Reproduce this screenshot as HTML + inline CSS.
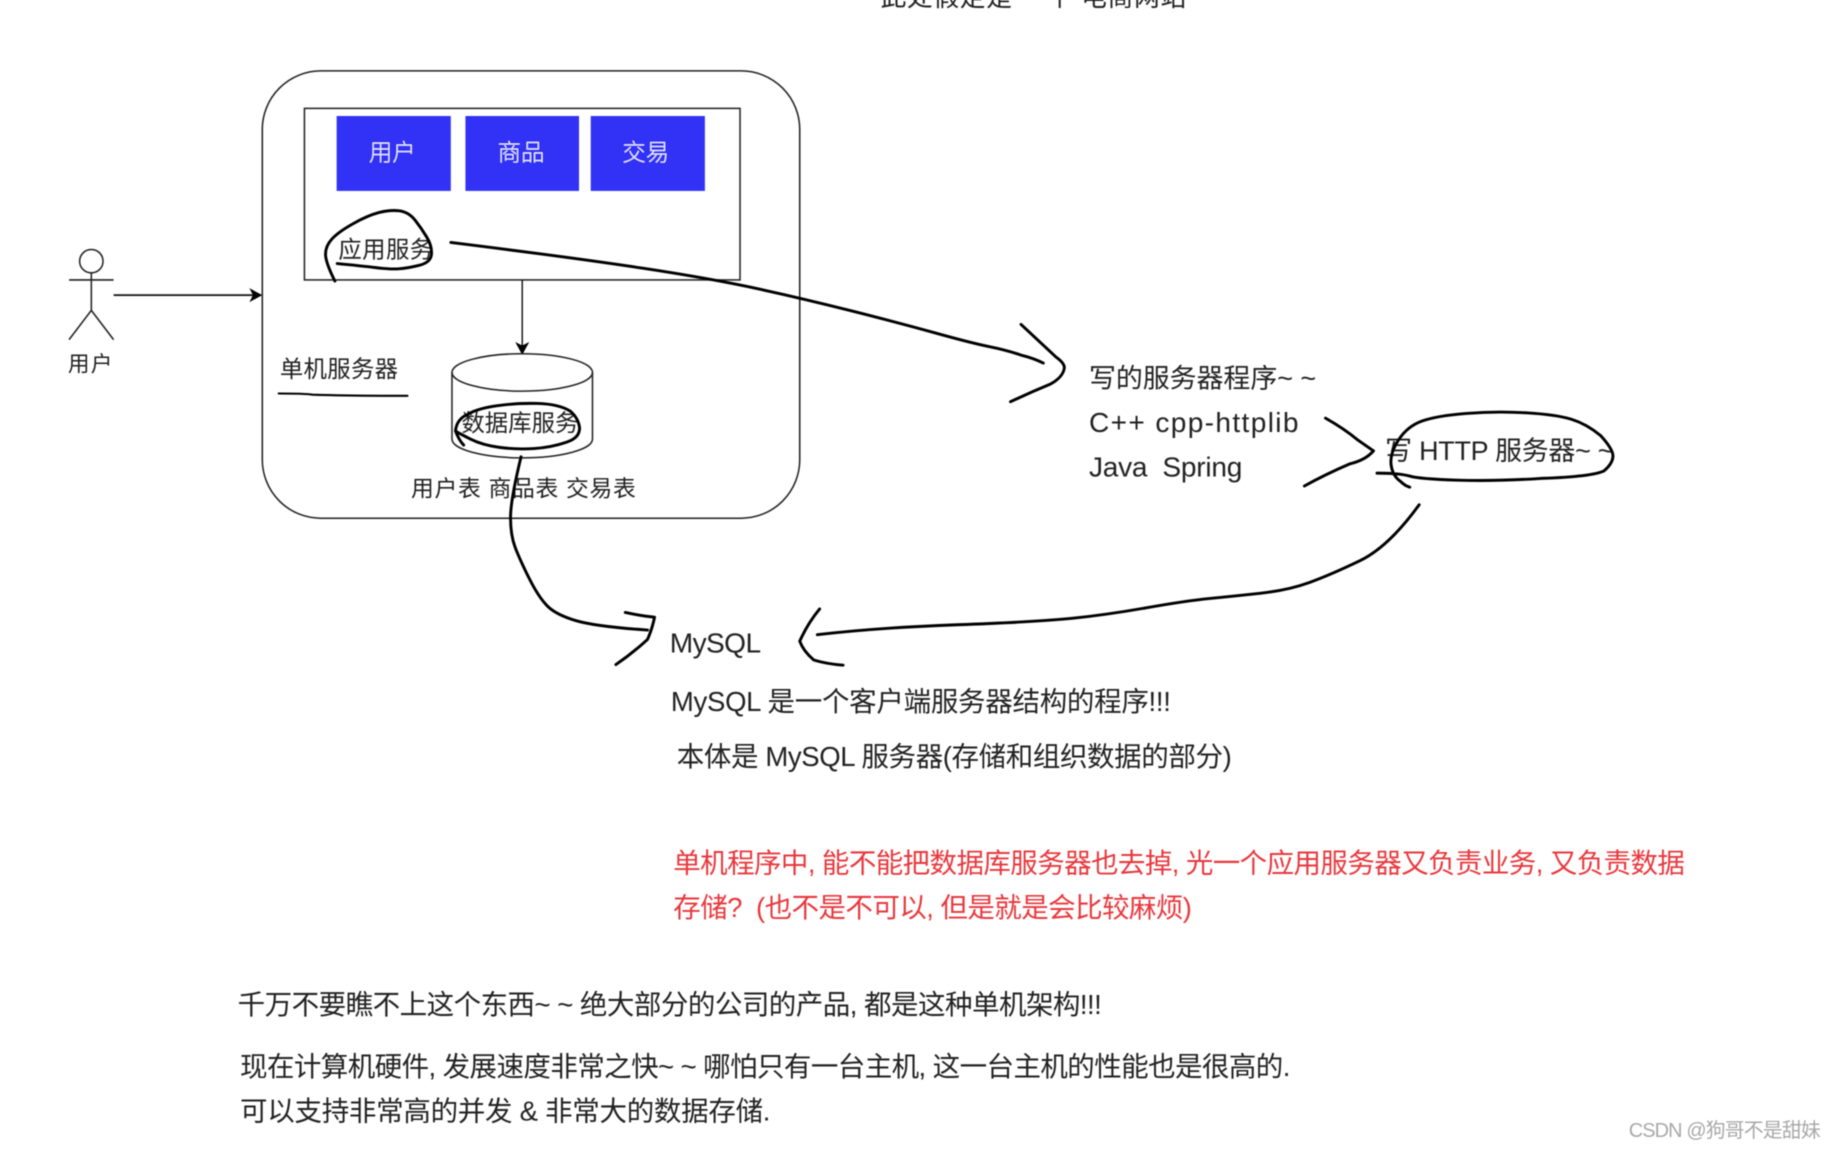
<!DOCTYPE html>
<html><head><meta charset="utf-8"><style>
html,body{margin:0;padding:0;background:#fff;width:1836px;height:1150px;overflow:hidden}
svg{display:block}
text{font-family:"Liberation Sans","Noto Sans CJK SC",sans-serif;fill:#222;white-space:pre}
.h{fill:none;stroke:#000;stroke-width:2.500;stroke-linecap:round;stroke-linejoin:round}
.s{fill:none;stroke:#222;stroke-width:1.300}
</style></head><body>
<svg width="1836" height="1150" viewBox="0 0 1568 982" xmlns="http://www.w3.org/2000/svg">
<defs><filter id="b" x="0" y="0" width="100%" height="100%"><feGaussianBlur stdDeviation="0.4"/></filter></defs>
<rect width="1568" height="982" fill="#fff"/>
<g filter="url(#b)">
<text x="752" y="5" font-size="22" textLength="261" lengthAdjust="spacing">此处假定是 一个 电商网站</text>

<rect class="s" x="224" y="60.500" width="459" height="382" rx="50" ry="50"/>
<rect class="s" x="260" y="92.500" width="372" height="146.500"/>
<rect x="287.500" y="99" width="97.500" height="64" fill="#3030f6"/>
<rect x="397.500" y="99" width="97" height="64" fill="#3030f6"/>
<rect x="504.500" y="99" width="97.500" height="64" fill="#3030f6"/>
<text x="335" y="137" font-size="20" text-anchor="middle" style="fill:#f4f4ff;font-weight:300">用户</text>
<text x="445" y="137" font-size="20" text-anchor="middle" style="fill:#f4f4ff;font-weight:300">商品</text>
<text x="551.500" y="137" font-size="20" text-anchor="middle" style="fill:#f4f4ff;font-weight:300">交易</text>
<text x="289" y="220" font-size="20" textLength="81" lengthAdjust="spacing">应用服务</text>

<ellipse class="s" cx="78" cy="223" rx="10" ry="10"/>
<path class="s" d="M59 239H97M78 233V265L59 290M78 265L97 290"/>
<text x="58" y="317" font-size="18.500" textLength="38" lengthAdjust="spacing">用户</text>
<path d="M97 252H216" stroke="#111" stroke-width="1.500" fill="none"/>
<path d="M224 252L213 246L216 252L213 258Z" fill="#000"/>
<path d="M446 239V295" stroke="#111" stroke-width="1.200" fill="none"/>
<path d="M446 303L440 292L446 295L452 292Z" fill="#000"/>

<text x="239" y="322" font-size="20" textLength="101" lengthAdjust="spacing">单机服务器</text>
<path class="h" d="M238 336Q260 336 267 337Q300 338 348 338" style="stroke-width:1.800"/>

<path class="s" d="M386 318A60 16 0 0 1 506 318V375A60 16 0 0 1 386 375Z"/>
<path class="s" d="M386 318A60 16 0 0 0 506 318"/>
<text x="394" y="368" font-size="20" textLength="100" lengthAdjust="spacing">数据库服务</text>
<text x="351" y="424" font-size="19.500" textLength="192" lengthAdjust="spacing">用户表 商品表 交易表</text>

<path class="h" d="M286 240Q278 224 278 217Q278 210 283.500 204Q289 198 301.500 191Q314 184 323.500 181.500Q333 179 341 180Q349 181 354.500 188Q360 195 364.500 202.500Q369 210 368.500 217Q368 224 358 226.500Q348 229 340.500 229.500Q333 230 321 228.500Q309 227 288 225"/>
<path class="h" d="M385 207Q490 220 549 229Q608 238 647 246.500Q686 255 727.500 265.500Q769 276 799.500 284.500Q830 293 845 296Q860 299 873 303.500Q883 306 891 310"/>
<path class="h" d="M872 277Q888 292 902 305Q909 310 909 314Q908 322 897 328Q880 335 863 343"/>

<text x="930" y="331" font-size="23" textLength="194" lengthAdjust="spacing">写的服务器程序~ ~</text>
<text x="930" y="369" font-size="24" textLength="179" lengthAdjust="spacing">C++ cpp-httplib</text>
<text x="930" y="407" font-size="24" textLength="131" lengthAdjust="spacing">Java  Spring</text>

<path class="h" d="M1132 357Q1148 366 1160 376Q1170 383 1173 385Q1166 393 1153 396Q1132 405 1114 415"/>
<text x="1183" y="393" font-size="23" textLength="195" lengthAdjust="spacing">写 HTTP 服务器~ ~</text>
<path class="h" d="M1176 404Q1195 404 1204 406.500Q1212 409 1245 410Q1278 411 1316 408.500Q1360 407 1370 402Q1377 396 1377.500 390Q1378 384 1367 372Q1355 362 1342 358Q1329 354 1303.500 352.500Q1278 351 1252.500 353Q1227 355 1214.500 359.500Q1202 364 1194.500 375.500Q1187 387 1188 396.500Q1189 406 1196 411Q1200 415 1204 416"/>

<path class="h" d="M1212 431Q1186 467 1161 479Q1136 491 1118 497.500Q1100 504 1077 506.500Q1054 509 1033.500 511Q1013 513 979 519Q945 525 915.500 528Q886 531 817.500 533.500Q749 536 698 542"/>
<path class="h" d="M700 520Q690 532 683 547.500Q686 556 695 563.600Q706 567 720 568"/>

<path class="h" d="M445 390Q436 427 436 442Q436 457 440 467.500Q444 478 452 494Q460 510 467.500 517.500Q475 525 492 530Q509 535 553 538"/>
<path class="h" d="M534 523Q548 526 559 527Q557 537 553 546Q540 558 526 567.500"/>

<path class="h" d="M396 380Q392 376 389 368Q390 358 399 354Q407 349 424 346.500Q441 344 459 344.500Q477 345 487 351Q494 357 495 365.500Q495 374 484 377.500Q471 382 456 383Q441 384 426.500 382Q412 380 402 375Q392 370 389 368"/>

<text x="572" y="557" font-size="24" textLength="78" lengthAdjust="spacing">MySQL</text>
<text x="573" y="607" font-size="23.500" textLength="427" lengthAdjust="spacing">MySQL 是一个客户端服务器结构的程序!!!</text>
<text x="578" y="654" font-size="23.500" textLength="474" lengthAdjust="spacing">本体是 MySQL 服务器(存储和组织数据的部分)</text>
<text x="575" y="745" font-size="23.500" textLength="864" lengthAdjust="spacing" style="fill:#e8383c">单机程序中, 能不能把数据库服务器也去掉, 光一个应用服务器又负责业务, 又负责数据</text>
<text x="575" y="783" font-size="23.500" textLength="443" lengthAdjust="spacing" style="fill:#e8383c">存储?  (也不是不可以, 但是就是会比较麻烦)</text>
<text x="203" y="866" font-size="23.500" textLength="738" lengthAdjust="spacing">千万不要瞧不上这个东西~ ~ 绝大部分的公司的产品, 都是这种单机架构!!!</text>
<text x="205" y="919" font-size="23.500" textLength="897" lengthAdjust="spacing">现在计算机硬件, 发展速度非常之快~ ~ 哪怕只有一台主机, 这一台主机的性能也是很高的.</text>
<text x="205" y="957" font-size="23.500" textLength="453" lengthAdjust="spacing">可以支持非常高的并发 &amp; 非常大的数据存储.</text>
<text x="1391" y="971" font-size="17" textLength="164" lengthAdjust="spacing" style="fill:#a8a8a8">CSDN @狗哥不是甜妹</text>
</g>
</svg>
</body></html>
